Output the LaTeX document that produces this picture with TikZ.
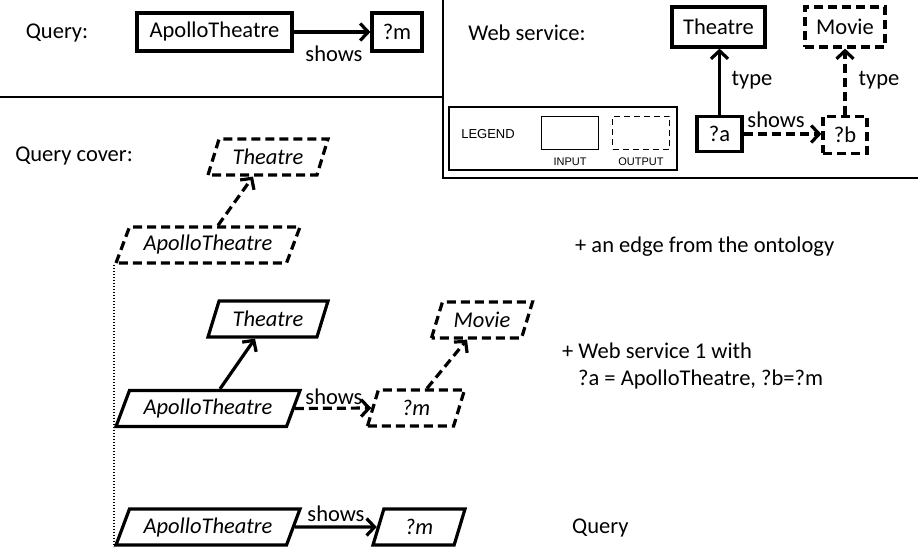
\documentclass[tikz,border=0pt]{standalone}
\usepackage{fontspec}
\setmainfont{Carlito}
\newfontfamily\legendfont{Liberation Sans}
\usepackage{tikz}
\usetikzlibrary{arrows.meta,shapes.geometric}

\tikzset{
  txt/.style={font=\fontsize{22.5}{27}\selectfont, inner sep=0pt},
  box/.style={draw, line width=3.2pt, inner sep=0pt, font=\fontsize{22.5}{27}\selectfont},
  outbox/.style={box, dash pattern=on 9pt off 5pt},
  pgram/.style={trapezium, trapezium left angle=55, trapezium right angle=125,
    trapezium stretches body, draw, line width=3.2pt, inner sep=0pt,
    minimum height=36pt, font=\fontsize{22.5}{27}\selectfont\itshape},
  outpgram/.style={pgram, dash pattern=on 9pt off 5pt},
  link/.style={-{Straight Barb[length=8pt,width=17pt]}, line width=3.2pt},
  outlink/.style={link, dash pattern=on 9pt off 5pt},
  legbox/.style={draw, line width=1.5pt, minimum width=57pt, minimum height=33pt},
  legtxt/.style={font=\legendfont\fontsize{11}{13}\selectfont, inner sep=0pt},
}

\begin{document}
\begin{tikzpicture}[x=1pt,y=-1pt]
   \useasboundingbox (0,0) rectangle (918,548);

   \draw[line width=2pt] (0,97) -- (443,97);
   \draw[line width=2pt] (443,0) -- (443,178) -- (918,178);

   % query
   \draw (57,33) node[txt] (querytitle) {Query:};
   \draw (214.5,32) node[box, minimum width=155pt, minimum height=38pt] (qapollo) {ApolloTheatre};
   \draw (397,32) node[box, minimum width=50pt, minimum height=38pt] (qm) {?m};
   \draw (334,54) node[txt] (qshows) {shows};
   \path[link] (qapollo) edge (qm);

   % web service
   \draw (527,33) node[txt] (wstitle) {Web service:};
   \draw (718.5,27) node[box, minimum width=93pt, minimum height=40pt] (wtheatre) {Theatre};
   \draw (845,27) node[outbox, minimum width=80pt, minimum height=40pt] (wmovie) {Movie};
   \draw (719.5,134) node[box, minimum width=45pt, minimum height=35pt] (wa) {?a};
   \draw (845,135) node[outbox, minimum width=44pt, minimum height=37pt] (wb) {?b};
   \draw (752,80) node[txt] (wtypea) {type};
   \draw (879,80) node[txt] (wtypeb) {type};
   \draw (776,120) node[txt] (wshows) {shows};
   \path[link] (wa) edge (wa |- wtheatre.south);
   \path[outlink] (wb) edge (wmovie);
   \path[outlink] (wa.east) edge (wa.east -| wb.west);

   % legend
   \draw (563,138.5) node[draw, line width=1.3pt, minimum width=228pt, minimum height=63pt] (legend) {};
   \draw (488,134) node[font=\legendfont\fontsize{13}{15}\selectfont, inner sep=0pt] (legendtitle) {LEGEND};
   \draw (570,133) node[legbox] (legin) {};
   \draw (641,133) node[legbox, dash pattern=on 6pt off 4pt] (legout) {};
   \draw (570,162) node[legtxt] (legintext) {INPUT};
   \draw (641,162) node[legtxt] (legouttext) {OUTPUT};

   % query cover
   \draw (74,156) node[txt] (covertitle) {Query cover:};
   \draw (268,157) node[outpgram, minimum width=120pt] (ctheatre) {Theatre};
   \draw (208,245) node[outpgram, minimum width=184pt] (capollo) {ApolloTheatre};
   \path[outlink] ([xshift=10pt]capollo.north) edge ([xshift=-15pt]ctheatre.south);
   \draw (575,247) node[txt, anchor=west] (ontology) {+ an edge from the ontology};

   \draw (268,319) node[pgram, minimum width=120pt] (mtheatre) {Theatre};
   \draw (208,408.5) node[pgram, minimum width=184pt] (mapollo) {ApolloTheatre};
   \draw (416,408) node[outpgram, minimum width=97pt] (mm) {?m};
   \draw (482,320) node[outpgram, minimum width=101pt] (mmovie) {Movie};
   \draw (334,397) node[txt] (mshows) {shows};
   \path[link] ([xshift=12pt]mapollo.north) edge ([xshift=-13pt]mtheatre.south);
   \path[outlink] (mapollo.east) edge (mm.west);
   \path[outlink] ([xshift=11pt]mm.north) edge ([xshift=-15pt]mmovie.south);
   \draw (562,366) node[txt, anchor=west, align=left] (wsone) {+ Web service 1 with\\\hspace*{16pt}?a = ApolloTheatre, ?b=?m};

   \draw (208,527) node[pgram, minimum width=184pt] (qcapollo) {ApolloTheatre};
   \draw (419,527) node[pgram, minimum width=92pt] (qcm) {?m};
   \draw (336,514) node[txt] (qcshows) {shows};
   \path[link] (qcapollo.east) edge (qcm.west);
   \draw (572,528) node[txt, anchor=west] (qclabel) {Query};

   \draw[line width=2pt, dash pattern=on 1.6pt off 1.4pt] (capollo.bottom left corner) -- (qcapollo.bottom left corner);
\end{tikzpicture}
\end{document}
